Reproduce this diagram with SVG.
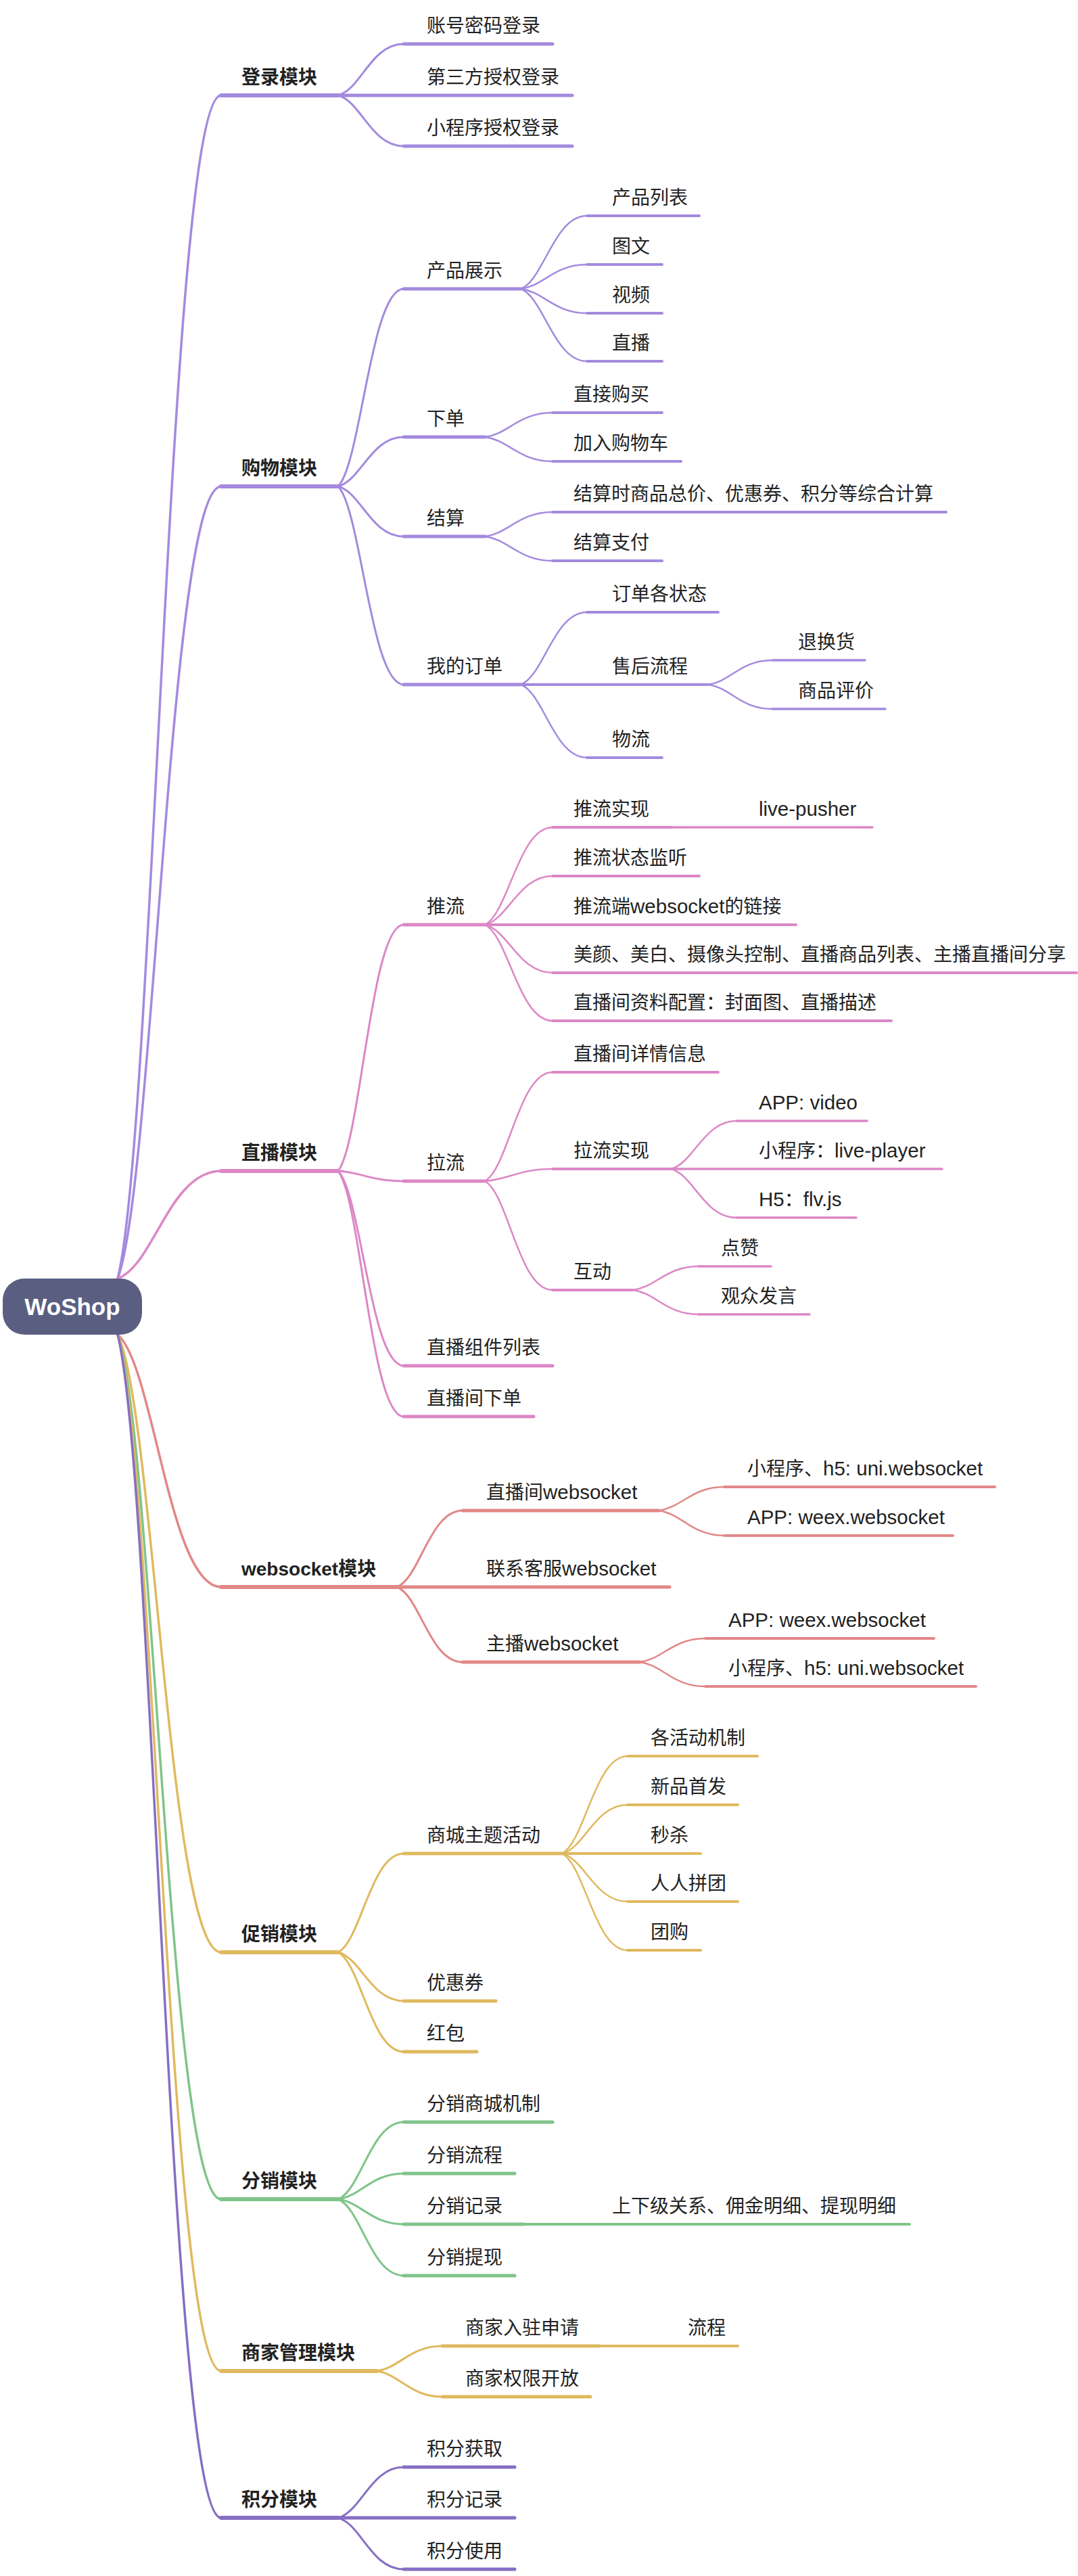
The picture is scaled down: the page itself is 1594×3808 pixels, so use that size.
<svg xmlns="http://www.w3.org/2000/svg" width="1594" height="3808" viewBox="0 0 1594 3808">
<style>
.t{font-family:"Liberation Sans","Noto Sans CJK SC",sans-serif;font-size:28px;fill:#222}
.b{font-weight:bold}
.en{font-size:29.5px}
.b .en{font-size:28px}
path,line{fill:none;stroke-linecap:round}
.c0{stroke-width:3.5}
.c1{stroke-width:3}
.c2{stroke-width:2.5}
.u1{stroke-width:6}
.u2{stroke-width:5}
.u3{stroke-width:4}
.u4{stroke-width:3.5}
.pa{stroke:#A38ADE}
.pk{stroke:#DC87C6}
.rd{stroke:#E28787}
.ye{stroke:#E0B95F}
.gr{stroke:#80C48A}
.pd{stroke:#866EC4}
</style>
<rect width="1594" height="3808" fill="#ffffff"/>
<g id="connectors">
<!-- root links -->
<path class="c0 pa" d="M174 1890 C227.6 1680 250.5 141 327 141"/>
<path class="c0 pa" d="M174 1890 C227.6 1749.5 250.5 719 327 719"/>
<path class="c0 pk" d="M174 1890 C227.6 1871 250.5 1731 327 1731"/>
<path class="c0 rd" d="M174 1973 C227.6 2018 250.5 2346 327 2346"/>
<path class="c0 ye" d="M174 1973 C227.6 2082.6 250.5 2886 327 2886"/>
<path class="c0 gr" d="M174 1973 C227.6 2126.4 250.5 3251 327 3251"/>
<path class="c0 ye" d="M174 1973 C227.6 2156.8 250.5 3505 327 3505"/>
<path class="c0 pd" d="M174 1973 C227.6 2182.9 250.5 3722 327 3722"/>
<!-- 登录模块 -->
<path class="c1 pa" d="M500 141 C534 131.9 548.5 65 597 65"/>
<path class="c1 pa" d="M500 141 C534 150 548.5 216 597 216"/>
<!-- 购物模块 -->
<path class="c1 pa" d="M500 719 C534 684 548.5 427 597 427"/>
<path class="c1 pa" d="M500 719 C534 710.2 548.5 646 597 646"/>
<path class="c1 pa" d="M500 719 C534 727.9 548.5 793 597 793"/>
<path class="c1 pa" d="M500 719 C534 754.2 548.5 1012 597 1012"/>
<path class="c2 pa" d="M770 427 C804.3 414 819 319 868 319"/>
<path class="c2 pa" d="M770 427 C804.3 422.7 819 391 868 391"/>
<path class="c2 pa" d="M770 427 C804.3 431.3 819 463 868 463"/>
<path class="c2 pa" d="M770 427 C804.3 439.8 819 534 868 534"/>
<path class="c2 pa" d="M717 646 C752 641.7 767 610 817 610"/>
<path class="c2 pa" d="M717 646 C752 650.3 767 682 817 682"/>
<path class="c2 pa" d="M717 793 C752 788.7 767 757 817 757"/>
<path class="c2 pa" d="M717 793 C752 797.3 767 829 817 829"/>
<path class="c2 pa" d="M770 1012 C804.3 999.2 819 905 868 905"/>
<path class="c2 pa" d="M770 1012 C804.3 1025 819 1120 868 1120"/>
<path class="c2 pa" d="M1047 1012 C1080.3 1007.7 1094.5 976 1142 976"/>
<path class="c2 pa" d="M1047 1012 C1080.3 1016.3 1094.5 1048 1142 1048"/>
<!-- 直播模块 -->
<path class="c1 pk" d="M500 1731 C534 1687.3 548.5 1367 597 1367"/>
<path class="c1 pk" d="M500 1731 C534 1732.8 548.5 1746 597 1746"/>
<path class="c1 pk" d="M500 1731 C534 1765.6 548.5 2019 597 2019"/>
<path class="c1 pk" d="M500 1731 C534 1774.6 548.5 2094 597 2094"/>
<path class="c2 pk" d="M717 1367 C752 1349.7 767 1223 817 1223"/>
<path class="c2 pk" d="M717 1367 C752 1358.4 767 1295 817 1295"/>
<path class="c2 pk" d="M717 1367 C752 1375.5 767 1438 817 1438"/>
<path class="c2 pk" d="M717 1367 C752 1384 767 1509 817 1509"/>
<path class="c2 pk" d="M717 1746 C752 1726.7 767 1585 817 1585"/>
<path class="c2 pk" d="M717 1746 C752 1743.8 767 1728 817 1728"/>
<path class="c2 pk" d="M717 1746 C752 1765.3 767 1907 817 1907"/>
<path class="c2 pk" d="M992 1728 C1026 1719.5 1040.5 1657 1089 1657"/>
<path class="c2 pk" d="M992 1728 C1026 1736.6 1040.5 1800 1089 1800"/>
<path class="c2 pk" d="M936 1907 C970 1902.8 984.5 1872 1033 1872"/>
<path class="c2 pk" d="M936 1907 C970 1911.3 984.5 1943 1033 1943"/>
<!-- websocket模块 -->
<path class="c1 rd" d="M587 2346 C621 2332.4 635.5 2233 684 2233"/>
<path class="c1 rd" d="M587 2346 C621 2359.3 635.5 2457 684 2457"/>
<path class="c2 rd" d="M974 2233 C1008 2228.8 1022.5 2198 1071 2198"/>
<path class="c2 rd" d="M974 2233 C1008 2237.4 1022.5 2270 1071 2270"/>
<path class="c2 rd" d="M946 2457 C980 2452.8 994.5 2422 1043 2422"/>
<path class="c2 rd" d="M946 2457 C980 2461.3 994.5 2493 1043 2493"/>
<!-- 促销模块 -->
<path class="c1 ye" d="M500 2886 C534 2868.5 548.5 2740 597 2740"/>
<path class="c1 ye" d="M500 2886 C534 2894.6 548.5 2958 597 2958"/>
<path class="c1 ye" d="M500 2886 C534 2903.6 548.5 3033 597 3033"/>
<path class="c2 ye" d="M831 2740 C865 2722.7 879.5 2596 928 2596"/>
<path class="c2 ye" d="M831 2740 C865 2731.4 879.5 2668 928 2668"/>
<path class="c2 ye" d="M831 2740 C865 2748.5 879.5 2811 928 2811"/>
<path class="c2 ye" d="M831 2740 C865 2757.2 879.5 2883 928 2883"/>
<!-- 分销模块 -->
<path class="c1 gr" d="M500 3251 C534 3237.3 548.5 3137 597 3137"/>
<path class="c1 gr" d="M500 3251 C534 3246.4 548.5 3213 597 3213"/>
<path class="c1 gr" d="M500 3251 C534 3255.4 548.5 3288 597 3288"/>
<path class="c1 gr" d="M500 3251 C534 3264.6 548.5 3364 597 3364"/>
<!-- 商家管理模块 -->
<path class="c1 ye" d="M557 3505 C591 3500.6 605.5 3468 654 3468"/>
<path class="c1 ye" d="M557 3505 C591 3509.6 605.5 3543 654 3543"/>
<!-- 积分模块 -->
<path class="c1 pd" d="M500 3722 C534 3713 548.5 3647 597 3647"/>
<path class="c1 pd" d="M500 3722 C534 3731.1 548.5 3798 597 3798"/>
</g>

<!-- 登录模块 -->
<g id="n-login"><line class="u1 pa" x1="327" y1="141" x2="500" y2="141"/><text class="t b" x="357" y="124">登录模块</text></g>
<g id="n-login-1"><line class="u2 pa" x1="597" y1="65" x2="817" y2="65"/><text class="t" x="631" y="48">账号密码登录</text></g>
<g id="n-login-2"><line class="u2 pa" x1="500" y1="141" x2="846" y2="141"/><text class="t" x="631" y="124">第三方授权登录</text></g>
<g id="n-login-3"><line class="u2 pa" x1="597" y1="216" x2="846" y2="216"/><text class="t" x="631" y="199">小程序授权登录</text></g>

<!-- 购物模块 -->
<g id="n-shop"><line class="u1 pa" x1="327" y1="719" x2="500" y2="719"/><text class="t b" x="357" y="702">购物模块</text></g>
<g id="n-show"><line class="u2 pa" x1="597" y1="427" x2="770" y2="427"/><text class="t" x="631" y="410">产品展示</text></g>
<g id="n-show-1"><line class="u3 pa" x1="868" y1="319" x2="1034" y2="319"/><text class="t" x="905" y="302">产品列表</text></g>
<g id="n-show-2"><line class="u3 pa" x1="868" y1="391" x2="979" y2="391"/><text class="t" x="905" y="374">图文</text></g>
<g id="n-show-3"><line class="u3 pa" x1="868" y1="463" x2="979" y2="463"/><text class="t" x="905" y="446">视频</text></g>
<g id="n-show-4"><line class="u3 pa" x1="868" y1="534" x2="979" y2="534"/><text class="t" x="905" y="517">直播</text></g>
<g id="n-order"><line class="u2 pa" x1="597" y1="646" x2="717" y2="646"/><text class="t" x="631" y="629">下单</text></g>
<g id="n-order-1"><line class="u3 pa" x1="817" y1="610" x2="979" y2="610"/><text class="t" x="848" y="593">直接购买</text></g>
<g id="n-order-2"><line class="u3 pa" x1="817" y1="682" x2="1007" y2="682"/><text class="t" x="848" y="665">加入购物车</text></g>
<g id="n-settle"><line class="u2 pa" x1="597" y1="793" x2="717" y2="793"/><text class="t" x="631" y="776">结算</text></g>
<g id="n-settle-1"><line class="u3 pa" x1="817" y1="757" x2="1399" y2="757"/><text class="t" x="848" y="740">结算时商品总价、优惠券、积分等综合计算</text></g>
<g id="n-settle-2"><line class="u3 pa" x1="817" y1="829" x2="979" y2="829"/><text class="t" x="848" y="812">结算支付</text></g>
<g id="n-myorder"><line class="u2 pa" x1="597" y1="1012" x2="770" y2="1012"/><text class="t" x="631" y="995">我的订单</text></g>
<g id="n-myorder-1"><line class="u3 pa" x1="868" y1="905" x2="1062" y2="905"/><text class="t" x="905" y="888">订单各状态</text></g>
<g id="n-myorder-2"><line class="u3 pa" x1="770" y1="1012" x2="1047" y2="1012"/><text class="t" x="905" y="995">售后流程</text></g>
<g id="n-after-1"><line class="u4 pa" x1="1142" y1="976" x2="1279" y2="976"/><text class="t" x="1180" y="959">退换货</text></g>
<g id="n-after-2"><line class="u4 pa" x1="1142" y1="1048" x2="1309" y2="1048"/><text class="t" x="1180" y="1031">商品评价</text></g>
<g id="n-myorder-3"><line class="u3 pa" x1="868" y1="1120" x2="979" y2="1120"/><text class="t" x="905" y="1103">物流</text></g>

<!-- 直播模块 -->
<g id="n-live"><line class="u1 pk" x1="327" y1="1731" x2="500" y2="1731"/><text class="t b" x="357" y="1714">直播模块</text></g>
<g id="n-push"><line class="u2 pk" x1="597" y1="1367" x2="717" y2="1367"/><text class="t" x="631" y="1350">推流</text></g>
<g id="n-push-1"><line class="u3 pk" x1="817" y1="1223" x2="992" y2="1223"/><text class="t" x="848" y="1206">推流实现</text></g>
<g id="n-push-1-1"><line class="u4 pk" x1="992" y1="1223" x2="1290" y2="1223"/><text class="t" x="1122" y="1206"><tspan class="en">live-pusher</tspan></text></g>
<g id="n-push-2"><line class="u3 pk" x1="817" y1="1295" x2="1034" y2="1295"/><text class="t" x="848" y="1278">推流状态监听</text></g>
<g id="n-push-3"><line class="u3 pk" x1="717" y1="1367" x2="1177" y2="1367"/><text class="t" x="848" y="1350">推流端<tspan class="en">websocket</tspan>的链接</text></g>
<g id="n-push-4"><line class="u3 pk" x1="817" y1="1438" x2="1592" y2="1438"/><text class="t" x="848" y="1421">美颜、美白、摄像头控制、直播商品列表、主播直播间分享</text></g>
<g id="n-push-5"><line class="u3 pk" x1="817" y1="1509" x2="1318" y2="1509"/><text class="t" x="848" y="1492">直播间资料配置：封面图、直播描述</text></g>
<g id="n-pull"><line class="u2 pk" x1="597" y1="1746" x2="717" y2="1746"/><text class="t" x="631" y="1729">拉流</text></g>
<g id="n-pull-1"><line class="u3 pk" x1="817" y1="1585" x2="1062" y2="1585"/><text class="t" x="848" y="1568">直播间详情信息</text></g>
<g id="n-pull-2"><line class="u3 pk" x1="817" y1="1728" x2="992" y2="1728"/><text class="t" x="848" y="1711">拉流实现</text></g>
<g id="n-pull-2-1"><line class="u4 pk" x1="1089" y1="1657" x2="1282" y2="1657"/><text class="t" x="1122" y="1640"><tspan class="en">APP: video</tspan></text></g>
<g id="n-pull-2-2"><line class="u4 pk" x1="992" y1="1728" x2="1393" y2="1728"/><text class="t" x="1122" y="1711">小程序：<tspan class="en">live-player</tspan></text></g>
<g id="n-pull-2-3"><line class="u4 pk" x1="1089" y1="1800" x2="1266" y2="1800"/><text class="t" x="1122" y="1783"><tspan class="en">H5</tspan>：<tspan class="en">flv.js</tspan></text></g>
<g id="n-pull-3"><line class="u3 pk" x1="817" y1="1907" x2="936" y2="1907"/><text class="t" x="848" y="1890">互动</text></g>
<g id="n-pull-3-1"><line class="u4 pk" x1="1033" y1="1872" x2="1140" y2="1872"/><text class="t" x="1066" y="1855">点赞</text></g>
<g id="n-pull-3-2"><line class="u4 pk" x1="1033" y1="1943" x2="1197" y2="1943"/><text class="t" x="1066" y="1926">观众发言</text></g>
<g id="n-live-3"><line class="u2 pk" x1="597" y1="2019" x2="817" y2="2019"/><text class="t" x="631" y="2002">直播组件列表</text></g>
<g id="n-live-4"><line class="u2 pk" x1="597" y1="2094" x2="789" y2="2094"/><text class="t" x="631" y="2077">直播间下单</text></g>

<!-- websocket模块 -->
<g id="n-ws"><line class="u1 rd" x1="327" y1="2346" x2="587" y2="2346"/><text class="t b" x="357" y="2329"><tspan class="en">websocket</tspan>模块</text></g>
<g id="n-ws-1"><line class="u2 rd" x1="684" y1="2233" x2="974" y2="2233"/><text class="t" x="719" y="2216">直播间<tspan class="en">websocket</tspan></text></g>
<g id="n-ws-1-1"><line class="u3 rd" x1="1071" y1="2198" x2="1471" y2="2198"/><text class="t" x="1105" y="2181">小程序、<tspan class="en">h5: uni.websocket</tspan></text></g>
<g id="n-ws-1-2"><line class="u3 rd" x1="1071" y1="2270" x2="1409" y2="2270"/><text class="t" x="1105" y="2253"><tspan class="en">APP: weex.websocket</tspan></text></g>
<g id="n-ws-2"><line class="u2 rd" x1="587" y1="2346" x2="990" y2="2346"/><text class="t" x="719" y="2329">联系客服<tspan class="en">websocket</tspan></text></g>
<g id="n-ws-3"><line class="u2 rd" x1="684" y1="2457" x2="946" y2="2457"/><text class="t" x="719" y="2440">主播<tspan class="en">websocket</tspan></text></g>
<g id="n-ws-3-1"><line class="u3 rd" x1="1043" y1="2422" x2="1381" y2="2422"/><text class="t" x="1077" y="2405"><tspan class="en">APP: weex.websocket</tspan></text></g>
<g id="n-ws-3-2"><line class="u3 rd" x1="1043" y1="2493" x2="1443" y2="2493"/><text class="t" x="1077" y="2476">小程序、<tspan class="en">h5: uni.websocket</tspan></text></g>

<!-- 促销模块 -->
<g id="n-promo"><line class="u1 ye" x1="327" y1="2886" x2="500" y2="2886"/><text class="t b" x="357" y="2869">促销模块</text></g>
<g id="n-theme"><line class="u2 ye" x1="597" y1="2740" x2="831" y2="2740"/><text class="t" x="631" y="2723">商城主题活动</text></g>
<g id="n-theme-1"><line class="u3 ye" x1="928" y1="2596" x2="1120" y2="2596"/><text class="t" x="962" y="2579">各活动机制</text></g>
<g id="n-theme-2"><line class="u3 ye" x1="928" y1="2668" x2="1091" y2="2668"/><text class="t" x="962" y="2651">新品首发</text></g>
<g id="n-theme-3"><line class="u3 ye" x1="831" y1="2740" x2="1036" y2="2740"/><text class="t" x="962" y="2723">秒杀</text></g>
<g id="n-theme-4"><line class="u3 ye" x1="928" y1="2811" x2="1091" y2="2811"/><text class="t" x="962" y="2794">人人拼团</text></g>
<g id="n-theme-5"><line class="u3 ye" x1="928" y1="2883" x2="1036" y2="2883"/><text class="t" x="962" y="2866">团购</text></g>
<g id="n-coupon"><line class="u2 ye" x1="597" y1="2958" x2="733" y2="2958"/><text class="t" x="631" y="2941">优惠券</text></g>
<g id="n-redpack"><line class="u2 ye" x1="597" y1="3033" x2="705" y2="3033"/><text class="t" x="631" y="3016">红包</text></g>

<!-- 分销模块 -->
<g id="n-dist"><line class="u1 gr" x1="327" y1="3251" x2="500" y2="3251"/><text class="t b" x="357" y="3234">分销模块</text></g>
<g id="n-dist-1"><line class="u2 gr" x1="597" y1="3137" x2="817" y2="3137"/><text class="t" x="631" y="3120">分销商城机制</text></g>
<g id="n-dist-2"><line class="u2 gr" x1="597" y1="3213" x2="761" y2="3213"/><text class="t" x="631" y="3196">分销流程</text></g>
<g id="n-dist-3"><line class="u2 gr" x1="597" y1="3288" x2="774" y2="3288"/><text class="t" x="631" y="3271">分销记录</text></g>
<g id="n-dist-3-1"><line class="u3 gr" x1="774" y1="3288" x2="1345" y2="3288"/><text class="t" x="905" y="3271">上下级关系、佣金明细、提现明细</text></g>
<g id="n-dist-4"><line class="u2 gr" x1="597" y1="3364" x2="761" y2="3364"/><text class="t" x="631" y="3347">分销提现</text></g>

<!-- 商家管理模块 -->
<g id="n-merchant"><line class="u1 ye" x1="327" y1="3505" x2="557" y2="3505"/><text class="t b" x="357" y="3488">商家管理模块</text></g>
<g id="n-merchant-1"><line class="u2 ye" x1="654" y1="3468" x2="886" y2="3468"/><text class="t" x="688" y="3451">商家入驻申请</text></g>
<g id="n-merchant-1-1"><line class="u3 ye" x1="886" y1="3468" x2="1091" y2="3468"/><text class="t" x="1017" y="3451">流程</text></g>
<g id="n-merchant-2"><line class="u2 ye" x1="654" y1="3543" x2="873" y2="3543"/><text class="t" x="688" y="3526">商家权限开放</text></g>

<!-- 积分模块 -->
<g id="n-points"><line class="u1 pd" x1="327" y1="3722" x2="500" y2="3722"/><text class="t b" x="357" y="3705">积分模块</text></g>
<g id="n-points-1"><line class="u2 pd" x1="597" y1="3647" x2="761" y2="3647"/><text class="t" x="631" y="3630">积分获取</text></g>
<g id="n-points-2"><line class="u2 pd" x1="500" y1="3722" x2="761" y2="3722"/><text class="t" x="631" y="3705">积分记录</text></g>
<g id="n-points-3"><line class="u2 pd" x1="597" y1="3798" x2="761" y2="3798"/><text class="t" x="631" y="3781">积分使用</text></g>

<!-- root -->
<g id="root">
<rect x="4" y="1890" width="206" height="83" rx="32" ry="32" fill="#5A5F82"/>
<text x="107" y="1944" text-anchor="middle" font-family="Liberation Sans, sans-serif" font-weight="bold" font-size="35" fill="#ffffff">WoShop</text>
</g>
</svg>
